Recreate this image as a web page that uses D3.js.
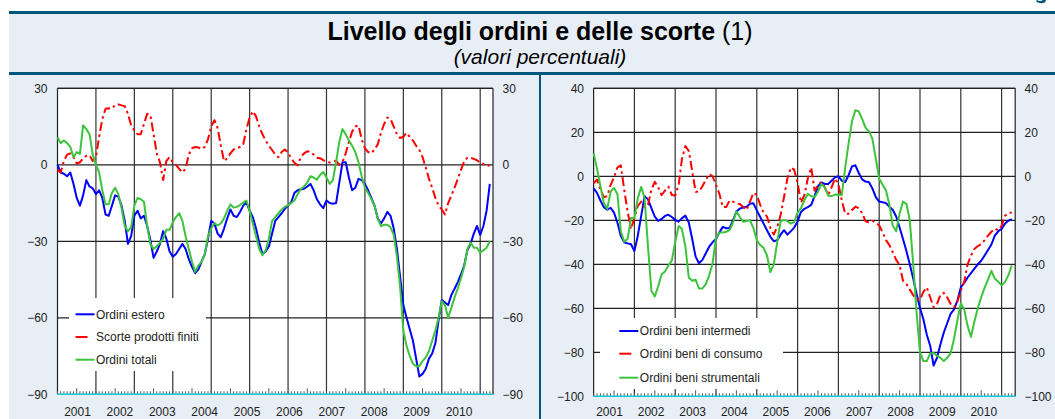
<!DOCTYPE html>
<html>
<head>
<meta charset="utf-8">
<script src="https://cdn.jsdelivr.net/npm/d3@7"></script>
<style>
  body { margin: 0; background: #fff; }
  svg { display: block; font-family: "Liberation Sans", Arial, sans-serif; }
</style>
</head>
<body>
<svg id="chart" width="1055" height="419"></svg>
<script>
// ---- data (monthly values) ----
const years = ['2001', '2002', '2003', '2004', '2005', '2006', '2007', '2008', '2009', '2010'];

const leftTicks = [30, 0, -30, -60, -90];
const rightTicks = [40, 20, 0, -20, -40, -60, -80, -100];

// left panel: 136 months
const ordiniEstero = [
  0, -3, -3.5, -4.5, -3, -7.5, -13, -16, -12, -6, -8.5, -9.2, -11.5, -10, -13, -19.5, -20, -16, -12, -12.5,
  -16, -22, -31, -28, -20, -18, -21, -20, -24, -29.5, -36.5, -34, -31, -26, -29, -34, -36, -35, -33, -31,
  -33, -37, -40, -42.5, -41, -38, -35, -29, -22, -23, -27, -28.4, -25, -21, -17.5, -20, -20.5, -18.5, -16, -14.8,
  -18, -20.5, -25, -30.5, -35, -34, -32, -27, -22, -20.5, -19, -17.3, -16, -14.6, -11, -10, -9.6, -9.4, -8.5, -7.5,
  -10, -13.5, -15.5, -17, -14, -15, -15.3, -15, -7, 1, 1, -5, -10, -9, -5.5, -6, -7.5, -10, -13, -16,
  -21, -23, -21, -18.5, -20, -25, -33, -44, -55, -60, -64.5, -69, -76, -83, -82, -80, -76, -74, -70, -61,
  -53, -54, -55, -51, -48.6, -46, -43, -39.5, -33.5, -31, -27, -24, -27.5, -24, -18, -7.5
];
const scorteProdotti = [
  -2, -3, 1.5, 4, 4.5, 3, 0.5, 1, 2.5, 3.5, 3.7, 1.5, 3, 11, 18, 22, 22.2, 22, 23.5, 23.7,
  23.3, 23, 20, 15.5, 13.5, 12, 12, 16, 20, 19.5, 12, 4.5, 1, -6, 1.5, 3, 1, 0, -1.6, -3,
  -1.5, 4, 6.5, 7, 6.8, 6.2, 7, 10, 15, 17.5, 14.5, 7.6, 1.5, 2.5, 4.5, 6, 6.5, 7, 8, 14,
  18.5, 21, 19, 15, 12, 9.5, 7.5, 5.8, 4, 3, 5, 6, 4.8, 2.5, 0.8, -0.2, 3, 4.5, 5.3, 5,
  4, 2.8, 2.6, 1.8, 1.2, 0.9, 1.2, 1.6, 0, 1, 4.5, 9, 13, 15, 15.4, 10, 6.5, 5, 4.5, 6,
  8, 12.5, 16, 18.5, 18, 15, 12, 10.5, 11, 12.5, 11, 9.5, 7.5, 5.8, 3, -1, -5.5, -9, -13, -16,
  -17.5, -19.5, -15, -12, -9, -5.5, -2, 1.3, 2.8, 2.8, 2.3, 1.8, 0.8, 0.3, -0.3, -0.3
];
const ordiniTotali = [
  10.8, 8.5, 9.5, 8.5, 7, 3, 5, 4.3, 15.5, 14, 12, 4, 0, -3, -10, -15.5, -15.5, -11, -9, -11.5,
  -17, -24, -26, -24.5, -16, -13, -13.5, -14.5, -24, -31, -33, -32, -30.5, -29, -25.5, -25.5, -22.5, -20.5, -19, -22,
  -28, -33, -38, -42, -39.5, -38, -35, -28, -25, -22.8, -23.8, -23, -21, -18, -15.5, -16.8, -16.5, -15.8, -14.8, -14,
  -18, -23, -28, -33, -35.5, -33.5, -29, -22, -20.5, -19, -17.5, -16.5, -15.8, -15, -14, -11.5, -9.5, -8.5, -7, -4.5,
  -5, -5.8, -4, -2.8, -5, -7.5, -6, 1, 9, 14, 12, 9.5, 7.5, 5, 1, -4.5, -9, -11, -13.5, -16,
  -21, -24, -23.5, -23.5, -24.5, -27.5, -36, -48, -65, -71, -75, -78, -79, -79, -77, -75.5, -73, -69, -65, -60,
  -53.5, -55, -60, -56, -52, -48.5, -44.5, -40, -33, -30.5, -32.5, -32.5, -34.5, -33.5, -32.5, -30
];

// right panel: 124 months
const beniIntermedi = [
  -5.5, -7.5, -11, -14, -15.2, -14.3, -16.5, -21, -27, -30, -30.5, -30.9, -34, -27, -18, -9, -10.5, -14.5, -18.3, -20.3,
  -19.4, -18, -17.5, -18.5, -19.8, -20.6, -19, -17.9, -21, -28.5, -36.5, -39.5, -38, -35, -32, -30, -28.5, -25.5, -23, -23.6,
  -23.6, -20, -16, -14.7, -14.2, -13.8, -12.5, -12.3, -15.5, -18.5, -21.5, -24.5, -27.5, -29.5, -29, -26.5, -24.5, -26.5, -25, -23.3,
  -20.5, -16.2, -14.8, -14, -13, -9, -4.5, -2.8, -3.5, -3.5, -2, -0.5, 0, -2, -2.6, 0.5, 4.5, 5, 1.5, -1.4,
  -2.4, -2.7, -5.5, -9.5, -11.5, -11.8, -12.2, -13.8, -15.3, -18.3, -23.3, -28.5, -34, -40, -46.5, -53.5, -60, -65, -72, -77,
  -86, -82.5, -76.5, -71, -66.8, -62.5, -60.5, -56.5, -50.5, -48.5, -46, -44, -42, -40, -38.4, -36, -33.5, -31, -27, -25,
  -23.9, -21.5, -20.2, -19.5
];
const beniConsumo = [
  -3.2, -1.5, -6, -9.5, -9, -4, -0.5, 4, 5, -6, -16, -24, -19, -13.5, -11.5, -14, -13, -6, -2.5, -5,
  -8.5, -6.5, -4.7, -8.5, -8.7, -4, 8, 13.8, 11.5, 2.5, -7, -7, -4.5, -1.7, 1, 0, -3.9, -8, -14, -14,
  -11, -11.5, -12.3, -12.6, -14, -15.3, -11.5, -7.5, -8.5, -13, -16.5, -18.3, -23.5, -26.5, -23, -17.6, -9.5, -1, 4, 3,
  -3, -12, -8.5, -1, 4, -6.5, -4.2, -2.5, -5, -8.5, -5, -1, -3.5, -11, -17, -17, -15.3, -13.8, -14.5, -16.8,
  -20.5, -21, -20.3, -21.2, -22.2, -25.5, -29, -31.3, -34.5, -38, -40.3, -47.5, -49, -51.5, -54, -56, -56, -52.5, -50.5, -55,
  -59.5, -58, -54, -53, -55, -58, -59.5, -57, -52, -47.9, -40, -36, -33, -31.7, -30.9, -29, -27, -25.2, -23.8, -24.5,
  -22.5, -18, -16.8, -16.4
];
const beniStrumentali = [
  10.5, 3.5, -4.5, -12, -14.8, -7, -5.3, -8, -25, -29.7, -28.5, -19, -19, -10, -4.8, -10, -32, -52, -54.6, -50,
  -44.5, -43.3, -40.5, -38.3, -30, -22.6, -24, -32, -46, -47.5, -47, -51, -51, -49, -45, -39.5, -28, -25.5, -25.5, -25.2,
  -24.5, -21, -16, -18.5, -20.7, -20.3, -20, -23.5, -29, -31.3, -32.5, -36, -43.5, -40, -30, -20.5, -19.8, -20.4, -21.5, -20.8,
  -16.5, -14.5, -10.8, -8, -9, -9.5, -7, -3.5, -5, -8.8, -9, -8.3, -8.4, -8.5, 4, 15, 25, 30, 29.5, 26,
  22, 20.5, 17, 8, -1, -3.8, -6.5, -13, -22.5, -25, -17, -11.5, -12.5, -20, -40, -62, -80, -84, -84, -80.5,
  -80.3, -81.5, -82.5, -84, -82.5, -80.5, -74, -65.5, -57.7, -60.5, -68, -73, -66, -60, -55, -50.6, -47, -43, -46.5, -47.9,
  -49.5, -48, -45, -40.5
];

// ---- layout ----
const BLUE = '#0000ff', RED = '#ff0000', GREEN = '#3cc43c';
const FRAME = '#00567a', BG = '#e7eef6';

const svg = d3.select('#chart');

// figure background and header
svg.append('rect').attr('x', 9).attr('y', 11).attr('width', 1046).attr('height', 408).attr('fill', BG);
svg.append('rect').attr('x', 9).attr('y', 11).attr('width', 1046).attr('height', 3).attr('fill', FRAME);
svg.append('rect').attr('x', 9).attr('y', 72).attr('width', 1046).attr('height', 3).attr('fill', FRAME);
svg.append('rect').attr('x', 539).attr('y', 75).attr('width', 2).attr('height', 344).attr('fill', FRAME);

// bottom of a cut-off glyph above the header (top right corner)
svg.append('path').attr('d', 'M1036,1.5 Q1040,4.5 1045,2.5 L1046,0 L1043,0 Q1040,2 1037,0 Z')
  .attr('fill', FRAME);

const title = svg.append('text').attr('x', 540).attr('y', 39.5)
  .attr('text-anchor', 'middle').attr('font-size', 25).attr('fill', '#000');
title.append('tspan').attr('font-weight', 'bold').text('Livello degli ordini e delle scorte');
title.append('tspan').text(' (1)');

svg.append('text').attr('x', 540).attr('y', 63.5)
  .attr('text-anchor', 'middle').attr('font-size', 21).attr('font-style', 'italic')
  .attr('fill', '#000').text('(valori percentuali)');

function drawPanel(p) {
  const x = d3.scaleLinear().domain([0, p.months]).range([p.x0, p.x1]);
  const y = d3.scaleLinear().domain([p.yMin, p.yMax]).range([p.y1, p.y0]);
  const g = svg.append('g');

  g.append('rect').attr('x', p.x0).attr('y', p.y0)
    .attr('width', p.x1 - p.x0).attr('height', p.y1 - p.y0).attr('fill', '#fff');

  // vertical grid every 12 months
  const vLines = d3.range(12, p.months, 12);
  g.selectAll('.vg').data(vLines).join('line')
    .attr('x1', d => x(d)).attr('x2', d => x(d))
    .attr('y1', p.y0).attr('y2', p.y1)
    .attr('stroke', '#333').attr('stroke-width', 1.2);

  // horizontal grid
  g.selectAll('.hg').data(p.ticks.filter(t => t !== p.yMin)).join('line')
    .attr('x1', p.x0).attr('x2', p.x1)
    .attr('y1', d => y(d)).attr('y2', d => y(d))
    .attr('stroke', '#222').attr('stroke-width', 1.2);

  // frame left/right
  g.append('line').attr('x1', p.x0).attr('x2', p.x0).attr('y1', p.y0).attr('y2', p.y1)
    .attr('stroke', '#222').attr('stroke-width', 1.2);
  g.append('line').attr('x1', p.x1).attr('x2', p.x1).attr('y1', p.y0).attr('y2', p.y1)
    .attr('stroke', '#222').attr('stroke-width', 1.2);

  // month ticks along the bottom
  g.selectAll('.mt').data(d3.range(0, p.months + 1)).join('line')
    .attr('x1', d => x(d)).attr('x2', d => x(d))
    .attr('y1', d => p.y1 - ((d % 12) === 6 ? 6 : 3)).attr('y2', p.y1)
    .attr('stroke', '#555').attr('stroke-width', 1);
  g.append('line').attr('x1', p.x0).attr('x2', p.x1).attr('y1', p.y1).attr('y2', p.y1)
    .attr('stroke', '#14c8d8').attr('stroke-width', 1.5);

  // y labels, both sides
  const yl = d3.axisLeft(y).tickValues(p.ticks).tickSize(0).tickPadding(0);
  const yr = d3.axisRight(y).tickValues(p.ticks).tickSize(0).tickPadding(0);
  const ga = g.append('g').attr('transform', `translate(${p.labL},0)`).call(yl);
  const gb = g.append('g').attr('transform', `translate(${p.labR},0)`).call(yr);
  [ga, gb].forEach(a => {
    a.select('.domain').remove();
    a.selectAll('text').attr('font-size', 12).attr('fill', '#222')
      .attr('font-family', '"Liberation Sans", Arial, sans-serif');
  });

  // year labels
  const xl = d3.scalePoint().domain(years).range(p.yearRange);
  g.selectAll('.yl').data(years).join('text')
    .attr('x', d => xl(d)).attr('y', 415.5)
    .attr('text-anchor', 'middle').attr('font-size', 12).attr('fill', '#222')
    .text(d => d);

  // legend box
  const L = p.legend;
  g.append('rect').attr('x', L.x0).attr('y', L.y0)
    .attr('width', L.x1 - L.x0).attr('height', L.y1 - L.y0).attr('fill', '#fff');
  p.series.forEach((s, k) => {
    const ry = L.rows[k];
    g.append('line').attr('x1', L.sx).attr('x2', s.dash ? L.sx + 12 : L.sx + 19)
      .attr('y1', ry).attr('y2', ry).attr('stroke', s.color).attr('stroke-width', 2);
    g.append('text').attr('x', L.sx + 20.5).attr('y', ry).attr('dy', '0.35em')
      .attr('font-size', 12).attr('fill', '#222').text(s.name);
  });

  // series
  const line = d3.line().x((d, i) => x(i)).y(d => y(d));
  p.series.forEach(s => {
    g.append('path').datum(s.values)
      .attr('d', line).attr('fill', 'none')
      .attr('stroke', s.color).attr('stroke-width', 2)
      .attr('stroke-linejoin', 'round')
      .attr('stroke-dasharray', s.dash ? '9,3.5,2.5,3.5' : null);
  });

  // top frame
  g.append('line').attr('x1', p.x0).attr('x2', p.x1).attr('y1', p.y0).attr('y2', p.y0)
    .attr('stroke', '#222').attr('stroke-width', 1.2);
}

drawPanel({
  months: 136, x0: 57.5, x1: 493, y0: 88.3, y1: 394.3,
  yMin: -90, yMax: 30, ticks: leftTicks, labL: 47.5, labR: 502.5,
  yearRange: [77.5, 459],
  legend: { x0: 69, x1: 206, y0: 298, y1: 371, sx: 75.5, rows: [314.3, 337, 359.7] },
  series: [
    { name: 'Ordini estero', values: ordiniEstero, color: BLUE },
    { name: 'Scorte prodotti finiti', values: scorteProdotti, color: RED, dash: true },
    { name: 'Ordini totali', values: ordiniTotali, color: GREEN }
  ]
});

drawPanel({
  months: 124, x0: 593.6, x1: 1015.2, y0: 88.3, y1: 396.3,
  yMin: -100, yMax: 40, ticks: rightTicks, labL: 584, labR: 1024.5,
  yearRange: [609.5, 983.8],
  legend: { x0: 600, x1: 783, y0: 318, y1: 389, sx: 619.3, rows: [331, 353.7, 377.7] },
  series: [
    { name: 'Ordini beni intermedi', values: beniIntermedi, color: BLUE },
    { name: 'Ordini beni di consumo', values: beniConsumo, color: RED, dash: true },
    { name: 'Ordini beni strumentali', values: beniStrumentali, color: GREEN }
  ]
});
</script>
</body>
</html>
